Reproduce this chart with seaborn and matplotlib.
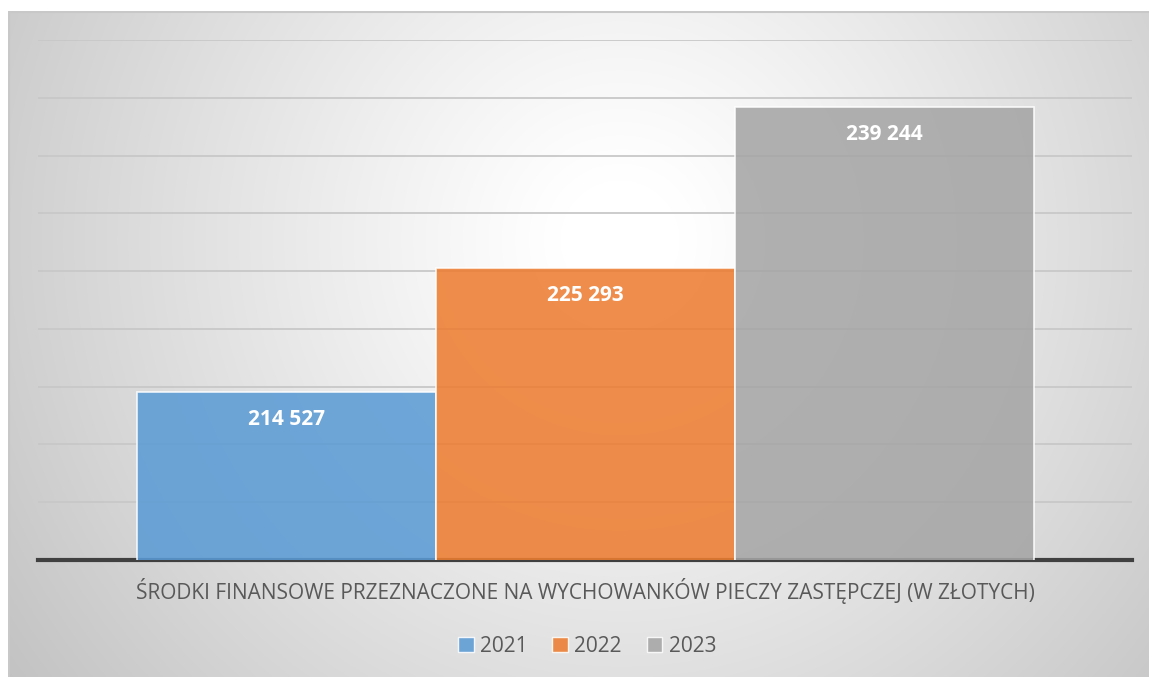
import numpy as np
import pandas as pd
import matplotlib
matplotlib.use("Agg")
import matplotlib.pyplot as plt
import matplotlib.patches as mpatches
import seaborn as sns

# dane
category = "ŚRODKI FINANSOWE PRZEZNACZONE NA WYCHOWANKÓW PIECZY ZASTĘPCZEJ (W ZŁOTYCH)"
years = ["2021", "2022", "2023"]
values = [214527, 225293, 239244]
colors = ["#5b9bd5", "#ed7d31", "#a5a5a5"]

df = pd.DataFrame({"kat": [category] * 3, "rok": years, "kwota": values})

sns.set_theme(style="white")
plt.rcParams["font.family"] = ["Open Sans", "DejaVu Sans"]

W, H = 1149, 677
fig = plt.figure(figsize=(W / 100, H / 100), dpi=100)
fig.patch.set_facecolor("white")

# tlo z gradientem radialnym
bg = fig.add_axes([8 / W, 0, (W - 8) / W, (H - 11) / H], zorder=-5)
yy, xx = np.mgrid[11:H, 8:W]
d = np.sqrt((xx - 620) ** 2 + (yy - 240) ** 2)
t = np.clip((d - 60) / 700, 0, 1)
g = 1 - 0.24 * t ** 1.1
bg.imshow(np.dstack([g, g, g]), aspect="auto", extent=(8, W, H, 11), interpolation="bilinear")
bg.set_xlim(8, W)
bg.set_ylim(H, 11)
bg.axis("off")
bg.plot([8.5, 8.5, W], [H, 11.5, 11.5], color="#c8c8c8", lw=1.5)

ax = fig.add_axes([38 / W, 1 - 560 / H, (1132 - 38) / W, (560 - 40) / H])
ax.patch.set_alpha(0)

sns.barplot(data=df, x="kat", y="kwota", hue="rok", palette=colors, width=897 / 1094,
            saturation=1, ax=ax, alpha=0.87, edgecolor=(1, 1, 1, 0.6), linewidth=1.2,
            legend=False, zorder=3)

ax.set_ylim(200000, 245000)
ax.set_xlim(-0.5, 0.5)
ax.set_yticks(np.arange(200000, 245001, 5000))
ax.yaxis.grid(True, color="#c8c8c8", lw=1.3, zorder=0)
ax.set_axisbelow(True)
ax.tick_params(axis="y", left=False, labelleft=False)
ax.tick_params(axis="x", bottom=False, labelsize=15, labelcolor="#595959", pad=7)
ax.set_xlabel("")
ax.set_ylabel("")
for s in ["top", "right", "left"]:
    ax.spines[s].set_visible(False)
ax.spines["bottom"].set_color("#404040")
ax.spines["bottom"].set_linewidth(3)

for bar, v in zip(ax.patches, values):
    txt = f"{v:,}".replace(",", " ")
    ax.annotate(txt, (bar.get_x() + bar.get_width() / 2, bar.get_height()),
                xytext=(0, -20), textcoords="offset points", ha="center", va="center",
                color="white", fontsize=15, fontweight="bold", zorder=5)

handles = [mpatches.Patch(facecolor=c, edgecolor=(1, 1, 1, 0.6), alpha=0.87) for c in colors]
fig.legend(handles, years, loc="center", bbox_to_anchor=(587 / W, 1 - 646 / H), ncol=3,
           frameon=False, fontsize=15, labelcolor="#595959", handlelength=0.75, handleheight=0.75,
           handletextpad=0.3, columnspacing=1.2)

fig.savefig("out.png", dpi=100)
